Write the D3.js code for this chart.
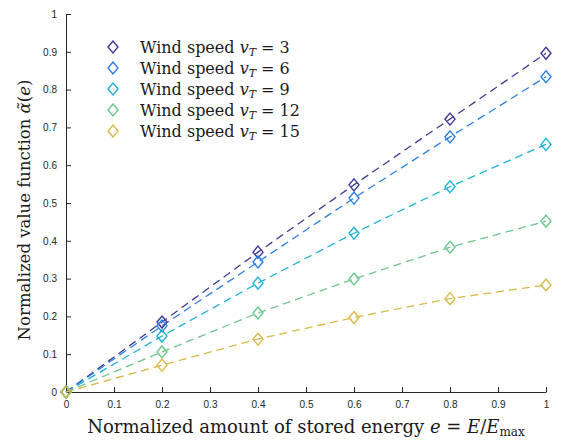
<!DOCTYPE html>
<html lang="en">
<meta charset="utf-8">
<script src="https://d3js.org/d3.v7.min.js"></script>
<style>
  body { margin: 0; background: #fff; }
  .tick text { font-family: "Liberation Sans", Arial, sans-serif; font-size: 10px; fill: #262626; }
</style>
<div id="my_dataviz"></div>
<script>
  // data
  var energy = [0, 0.2, 0.4, 0.6, 0.8, 1];
  var windSpeeds = [3, 6, 9, 12, 15];
  var v3  = [0, 0.185, 0.370, 0.548, 0.722, 0.896];
  var v6  = [0, 0.175, 0.344, 0.513, 0.675, 0.834];
  var v9  = [0, 0.148, 0.288, 0.420, 0.543, 0.655];
  var v12 = [0, 0.106, 0.209, 0.299, 0.383, 0.452];
  var v15 = [0, 0.071, 0.140, 0.197, 0.247, 0.283];
  var colors = ["#3f3a96", "#2a7fe3", "#1db2d6", "#6cc68d", "#d9b94a"];
  var xTicks = [0, 0.1, 0.2, 0.3, 0.4, 0.5, 0.6, 0.7, 0.8, 0.9, 1];
  var yTicks = [0, 0.1, 0.2, 0.3, 0.4, 0.5, 0.6, 0.7, 0.8, 0.9, 1];

  var series = [v3, v6, v9, v12, v15];
  var serif = "'DejaVu Serif', serif";

  var svg = d3.select("#my_dataviz")
    .append("svg")
      .attr("width", 561)
      .attr("height", 446)
    .append("g")
      .attr("transform", "translate(66,14)");

  var x = d3.scaleLinear().domain([0, 1]).range([0, 480]);
  var y = d3.scaleLinear().domain([0, 1]).range([378, 0]);

  // axes, ticks pointing inward
  svg.append("g")
    .attr("transform", "translate(0,378)")
    .call(d3.axisBottom(x).tickValues(xTicks).tickFormat(d3.format("")).tickSizeInner(-5).tickSizeOuter(0).tickPadding(9));
  svg.append("g")
    .call(d3.axisLeft(y).tickValues(yTicks).tickFormat(d3.format("")).tickSizeInner(-5).tickSizeOuter(0).tickPadding(9));
  svg.selectAll(".domain, .tick line").attr("stroke", "#262626");

  // dashed lines
  var line = d3.line()
    .x(function(d, i) { return x(energy[i]); })
    .y(function(d) { return y(d); });

  series.forEach(function(s, k) {
    svg.append("path")
      .datum(s)
      .attr("fill", "none")
      .attr("stroke", colors[k])
      .attr("stroke-width", 1.3)
      .attr("stroke-dasharray", "8,5")
      .attr("d", line);
  });

  function diamond(cx, cy) {
    return "M" + cx + "," + (cy - 6) + "L" + (cx + 5) + "," + cy + "L" + cx + "," + (cy + 6) + "L" + (cx - 5) + "," + cy + "Z";
  }

  series.forEach(function(s, k) {
    svg.selectAll(null)
      .data(s)
      .enter()
      .append("path")
        .attr("d", function(d, i) { return diamond(x(energy[i]), y(d)); })
        .attr("fill", "none")
        .attr("stroke", colors[k])
        .attr("stroke-width", 1.4);
  });

  // legend
  var legend = svg.append("g").attr("transform", "translate(47,33)");
  windSpeeds.forEach(function(v, k) {
    var g = legend.append("g").attr("transform", "translate(0," + (k * 21) + ")");
    g.append("path")
      .attr("d", diamond(0, 0))
      .attr("fill", "none")
      .attr("stroke", colors[k])
      .attr("stroke-width", 1.4);
    var t = g.append("text")
      .attr("x", 27).attr("y", 6)
      .style("font-family", serif)
      .style("fill", "#1a1a1a")
      .style("font-size", "16px");
    t.append("tspan").text("Wind speed ");
    t.append("tspan").style("font-style", "italic").text("v");
    t.append("tspan").style("font-style", "italic").style("font-size", "11px").attr("dy", 3).text("T");
    t.append("tspan").attr("dy", -3).text(" = " + v);
  });

  // x label
  var xl = svg.append("text")
    .attr("x", 240).attr("y", 419)
    .attr("text-anchor", "middle")
    .style("font-family", serif)
    .style("fill", "#1a1a1a")
    .style("font-size", "18px");
  xl.append("tspan").text("Normalized amount of stored energy ");
  xl.append("tspan").style("font-style", "italic").text("e");
  xl.append("tspan").text(" = ");
  xl.append("tspan").style("font-style", "italic").text("E");
  xl.append("tspan").text("/");
  xl.append("tspan").style("font-style", "italic").text("E");
  xl.append("tspan").style("font-size", "12px").attr("dy", 3).text("max");

  // y label
  var yl = svg.append("text")
    .attr("transform", "translate(-36,196) rotate(-90)")
    .attr("text-anchor", "middle")
    .style("font-family", serif)
    .style("fill", "#1a1a1a")
    .style("font-size", "16.5px");
  yl.append("tspan").text("Normalized value function ");
  yl.append("tspan").style("font-style", "italic").text("\u03b1\u0303");
  yl.append("tspan").text("(");
  yl.append("tspan").style("font-style", "italic").text("e");
  yl.append("tspan").text(")");
</script>
</html>
